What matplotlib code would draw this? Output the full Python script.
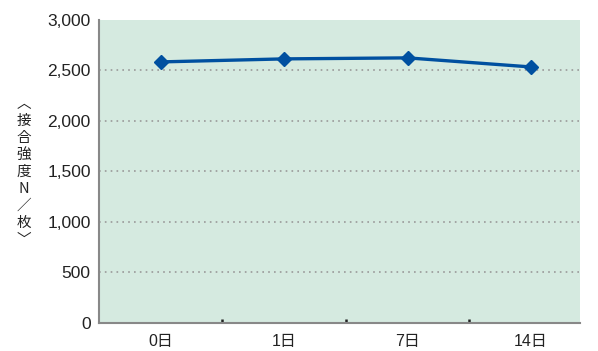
import matplotlib.pyplot as plt
from matplotlib.ticker import FuncFormatter, FixedLocator

plt.rcParams['font.family'] = ['Liberation Sans', 'Noto Sans CJK JP', 'DejaVu Sans']

days = ["0日", "1日", "7日", "14日"]
strength = [2585, 2615, 2625, 2535]
y_ticks = [0, 500, 1000, 1500, 2000, 2500, 3000]
y_label = "︿接合強度N／枚﹀"

fig = plt.figure(figsize=(5.98, 3.51), dpi=100)
ax = fig.add_axes([0.1656, 0.08, 0.805, 0.863])
ax.set_facecolor("#d5eae0")

x = list(range(len(days)))
ax.plot(x, strength, color="#0050a0", lw=2.4, marker="D", markersize=7.5, zorder=3)

ax.set_xlim(-0.5, 3.4)
ax.set_ylim(0, 3000)
ax.set_xticks(x)
ax.set_xticklabels(days, fontsize=11.5)
ax.set_yticks(y_ticks)
ax.yaxis.set_major_formatter(FuncFormatter(lambda v, p: f"{int(v):,}"))
ax.tick_params(axis="y", labelsize=12.5, length=0, pad=6, colors="#222222")
ax.tick_params(axis="x", which="major", length=0, pad=8, colors="#222222")
ax.xaxis.set_minor_locator(FixedLocator([0.5, 1.5, 2.5]))
ax.tick_params(axis="x", which="minor", direction="in", length=3, width=1.8, color="#222222")

for v in y_ticks[1:-1]:
    ax.axhline(v, color="#999999", lw=1.2, ls=(0, (1, 2.5)), zorder=1)

for s in ["top", "right"]:
    ax.spines[s].set_visible(False)
for s in ["left", "bottom"]:
    ax.spines[s].set_color("#888888")
    ax.spines[s].set_linewidth(1.5)

fig.text(0.04, 0.51, "\n".join(y_label), fontsize=10.5, ha="center", va="center",
         linespacing=1.28, color="#222222", family=['Noto Sans CJK JP', 'DejaVu Sans'])

fig.savefig("out.png", dpi=100)
